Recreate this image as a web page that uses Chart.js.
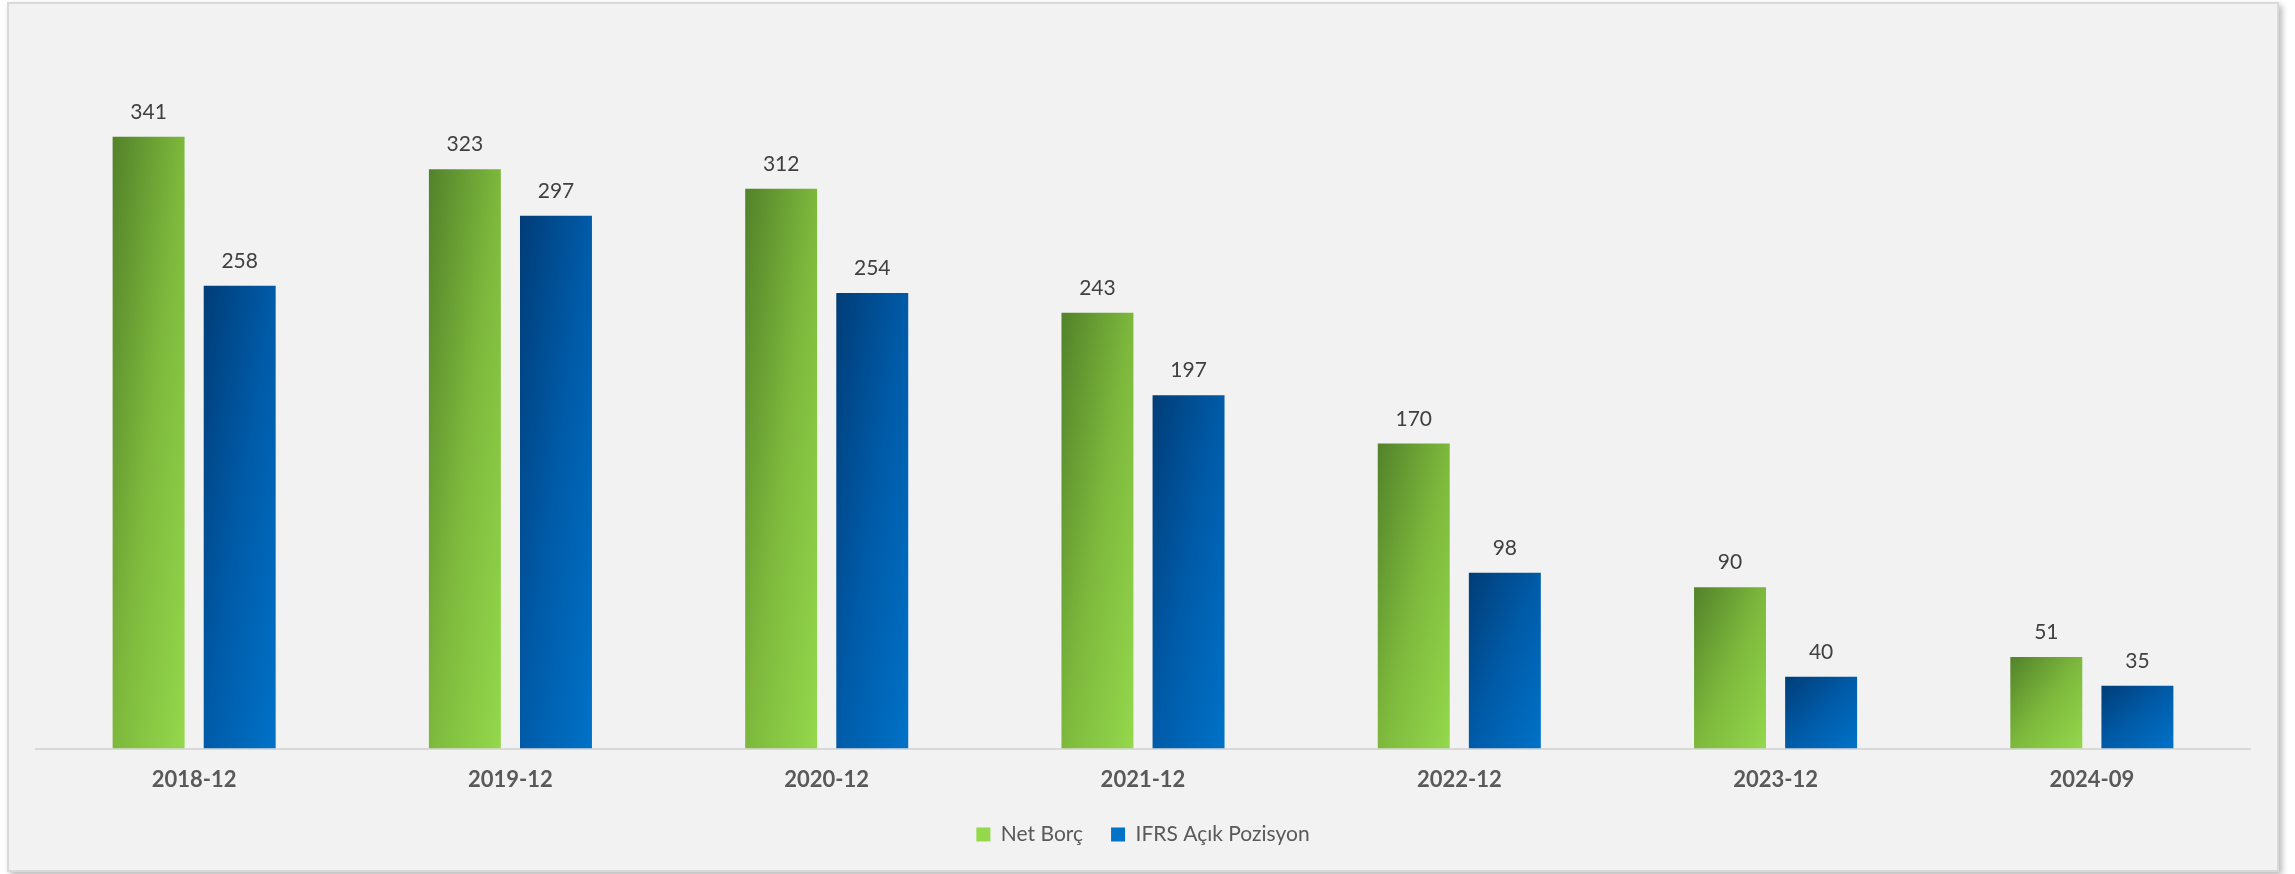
<!DOCTYPE html>
<html>
<head>
<meta charset="utf-8">
<script src="https://cdn.jsdelivr.net/npm/chart.js@4"></script>
<style>
  html, body { margin: 0; padding: 0; background: #ffffff; }
  body { width: 2295px; height: 874px; position: relative; overflow: hidden; }
  #frame {
    position: absolute; left: 7px; top: 2px; width: 2268px; height: 866px;
    background: #f2f2f2; border: 2px solid #d9d9d9;
    box-shadow: 3px 3px 6px rgba(0, 0, 0, 0.28);
  }
  #myChart { position: absolute; left: 0; top: 0; }
</style>
</head>
<body>
<div id="frame"></div>
<canvas id="myChart" width="2295" height="874"></canvas>
<script>
// Data
const categories = ['2018-12', '2019-12', '2020-12', '2021-12', '2022-12', '2023-12', '2024-09'];
const netBorc = [341, 323, 312, 243, 170, 90, 51];
const ifrsAcikPozisyon = [258, 297, 254, 197, 98, 40, 35];

const greenStops = ['#52822a', '#7db83c', '#94d84c'];
const blueStops = ['#003d78', '#005ba8', '#0072c8'];

// Excel-like 45deg gradient scaled to each bar (top-left dark -> bottom-right light)
function barFill(stops) {
  return function (c) {
    if (c.type !== 'data') return stops[1];
    const el = c.chart.getDatasetMeta(c.datasetIndex).data[c.dataIndex];
    if (!el || el.x === undefined || isNaN(el.y)) return stops[1];
    const w = el.width, h = Math.abs(el.base - el.y);
    if (!w || !h) return stops[1];
    const x0 = el.x - w / 2, y0 = el.y;
    const k = 2 / (1 / (w * w) + 1 / (h * h));
    const g = c.chart.ctx.createLinearGradient(x0, y0, x0 + k / w, y0 + k / h);
    g.addColorStop(0, stops[0]);
    g.addColorStop(0.5, stops[1]);
    g.addColorStop(1, stops[2]);
    return g;
  };
}

// value labels above the bars
const valueLabels = {
  id: 'valueLabels',
  afterDatasetsDraw(chart) {
    const ctx = chart.ctx;
    ctx.save();
    ctx.font = '21px Lato';
    ctx.fillStyle = '#404040';
    ctx.textAlign = 'center';
    ctx.textBaseline = 'alphabetic';
    chart.data.datasets.forEach((ds, i) => {
      chart.getDatasetMeta(i).data.forEach((el, j) => {
        ctx.fillText(String(ds.data[j]), el.x, el.y - 18);
      });
    });
    ctx.restore();
  }
};

const ctx = document.getElementById('myChart').getContext('2d');

const chart = new Chart(ctx, {
  type: 'bar',
  data: {
    labels: categories,
    datasets: [
      {
        label: 'Net Borç',
        data: netBorc,
        backgroundColor: barFill(greenStops),
        categoryPercentage: 0.576,
        barPercentage: 0.79
      },
      {
        label: 'IFRS Açık Pozisyon',
        data: ifrsAcikPozisyon,
        backgroundColor: barFill(blueStops),
        categoryPercentage: 0.576,
        barPercentage: 0.79
      }
    ]
  },
  options: {
    responsive: false,
    animation: false,
    layout: { padding: { left: 36, right: 45, top: 31, bottom: 19 } },
    scales: {
      x: {
        grid: { display: false, drawTicks: false },
        border: { display: true, color: '#d9d9d9', width: 2 },
        ticks: {
          color: '#595959',
          font: { family: 'Lato', size: 22, weight: 'bold' },
          padding: 18
        },
        // let the plot reach down to the axis line of the original
        afterFit: (scale) => { scale.height -= 15; }
      },
      y: {
        display: false,
        min: 0,
        max: 400
      }
    },
    plugins: {
      tooltip: { enabled: false },
      legend: {
        position: 'bottom',
        labels: {
          color: '#595959',
          font: { family: 'Lato', size: 21 },
          boxWidth: 14,
          boxHeight: 14,
          padding: 28
        }
      }
    }
  },
  plugins: [valueLabels]
});

// second pass so the gradients see the bar geometry
chart.update();
</script>
</body>
</html>
